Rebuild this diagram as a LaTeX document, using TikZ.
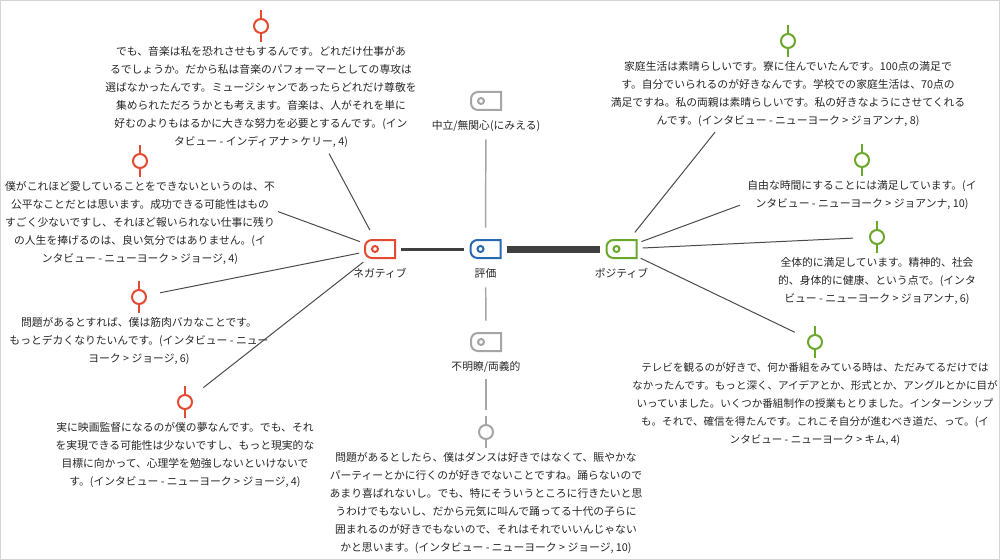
\documentclass[tikz,border=0pt]{standalone}
\usepackage{fontspec}
\setmainfont{Noto Sans CJK JP}
\usetikzlibrary{positioning,calc}
\definecolor{negred}{RGB}{228,73,49}
\definecolor{valblue}{RGB}{40,106,176}
\definecolor{posgreen}{RGB}{106,168,44}
\definecolor{tagarey}{RGB}{165,165,165}
\definecolor{linkgrey}{RGB}{75,75,75}
\definecolor{framegrey}{RGB}{212,212,212}

\begin{document}
\begin{tikzpicture}[x=0.75pt,y=0.75pt,node distance=9.4pt,
	every node/.style={text=black!85,font=\fontsize{8.1pt}{13.5pt}\selectfont},
	tagnode/.style={circle,minimum size=31.5pt,inner sep=0pt,
		path picture={\draw[draw=#1,line width=1.5pt,shift={(path picture bounding box.center)}]
			(11.25pt,6.75pt) -- (-6pt,6.75pt) arc[start angle=90,end angle=180,radius=5.25pt]
			-- (-11.25pt,-1.5pt) arc[start angle=180,end angle=270,radius=5.25pt]
			-- (11.25pt,-6.75pt) -- cycle
			(-3.75pt,0pt) circle[radius=2.25pt];}},
	tagtext/.style={inner sep=0pt,below=-1.4pt of #1},
	quotedot/.style={circle,draw=#1,line width=1.5pt,minimum size=10.5pt,inner sep=0pt},
	quotetext/.style={align=center,inner sep=0pt},
	link/.style={draw=linkgrey,line width=0.75pt},
	vline/.style={draw=tagarey,line width=1.1pt}]
	\useasboundingbox (0,0) rectangle (1000,-560);
	\draw[framegrey,line width=0.75pt] (0.5,-0.5) rectangle (999.5,-559.5);

	\node[tagnode=negred] (neg) at (380,-249) {};
	\node[tagnode=valblue] (val) at (485.5,-249) {};
	\node[tagnode=posgreen] (pos) at (621.5,-249) {};
	\node[tagnode=tagarey] (neu) at (486,-101) {};
	\node[tagnode=tagarey] (amb) at (486,-342) {};
	\node[tagtext=neg] (negtxt) {ネガティブ};
	\node[tagtext=val] (valtxt) {評価};
	\node[tagtext=pos] (postxt) {ポジティブ};
	\node[tagtext=neu] (neutxt) {中立/無関心(にみえる)};
	\node[tagtext=amb] (ambtxt) {不明瞭/両義的};

	\node[quotedot=negred] (n1) at (261,-26) {};
	\node[quotetext,below=of n1] (n1txt) {でも、音楽は私を恐れさせもするんです。どれだけ仕事があ\\
		るでしょうか。だから私は音楽のパフォーマーとしての専攻は\\
		選ばなかったんです。ミュージシャンであったらどれだけ尊敬を\\
		集められただろうかとも考えます。音楽は、人がそれを単に\\
		好むのよりもはるかに大きな努力を必要とするんです。(イン\\
		タビュー - インディアナ > ケリー, 4)};
	\node[quotedot=negred] (n2) at (140,-161) {};
	\node[quotetext,below=of n2] (n2txt) {僕がこれほど愛していることをできないというのは、不\\
		公平なことだとは思います。成功できる可能性はもの\\
		すごく少ないですし、それほど報いられない仕事に残り\\
		の人生を捧げるのは、良い気分ではありません。(イ\\
		ンタビュー - ニューヨーク > ジョージ, 4)};
	\node[quotedot=negred] (n3) at (139,-297) {};
	\node[quotetext,below=of n3] (n3txt) {問題があるとすれば、僕は筋肉バカなことです。\\
		もっとデカくなりたいんです。(インタビュー - ニュー\\
		ヨーク > ジョージ, 6)};
	\node[quotedot=negred] (n4) at (185,-402) {};
	\node[quotetext,below=of n4] (n4txt) {実に映画監督になるのが僕の夢なんです。でも、それ\\
		を実現できる可能性は少ないですし、もっと現実的な\\
		目標に向かって、心理学を勉強しないといけないで\\
		す。(インタビュー - ニューヨーク > ジョージ, 4)};
	\node[quotedot=tagarey] (gm) at (486,-432) {};
	\node[quotetext,below=of gm] (gmtxt) {問題があるとしたら、僕はダンスは好きではなくて、賑やかな\\
		パーティーとかに行くのが好きでないことですね。踊らないので\\
		あまり喜ばれないし。でも、特にそういうところに行きたいと思\\
		うわけでもないし、だから元気に叫んで踊ってる十代の子らに\\
		囲まれるのが好きでもないので、それはそれでいいんじゃない\\
		かと思います。(インタビュー - ニューヨーク > ジョージ, 10)};
	\node[quotedot=posgreen] (p1) at (788,-41) {};
	\node[quotetext,below=of p1] (p1txt) {家庭生活は素晴らしいです。寮に住んでいたんです。100点の満足で\\
		す。自分でいられるのが好きなんです。学校での家庭生活は、70点の\\
		満足ですね。私の両親は素晴らしいです。私の好きなようにさせてくれる\\
		んです。(インタビュー - ニューヨーク > ジョアンナ, 8)};
	\node[quotedot=posgreen] (p2) at (862,-160) {};
	\node[quotetext,below=of p2] (p2txt) {自由な時間にすることには満足しています。(イ\\
		ンタビュー - ニューヨーク > ジョアンナ, 10)};
	\node[quotedot=posgreen] (p3) at (877,-237) {};
	\node[quotetext,below=of p3] (p3txt) {全体的に満足しています。精神的、社会\\
		的、身体的に健康、という点で。(インタ\\
		ビュー - ニューヨーク > ジョアンナ, 6)};
	\node[quotedot=posgreen] (p4) at (815,-342) {};
	\node[quotetext,below=of p4,font=\fontsize{7.9pt}{13.5pt}\selectfont] (p4txt) {テレビを観るのが好きで、何か番組をみている時は、ただみてるだけでは\\
		なかったんです。もっと深く、アイデアとか、形式とか、アングルとかに目が\\
		いっていました。いくつか番組制作の授業もとりました。インターンシップ\\
		も。それで、確信を得たんです。これこそ自分が進むべき道だ、って。(イ\\
		ンタビュー - ニューヨーク > キム, 4)};

	\foreach \m/\col in {n1/negred,n2/negred,n3/negred,n4/negred,gm/tagarey,p1/posgreen,p2/posgreen,p3/posgreen,p4/posgreen}{
		\draw[draw=\col,line width=1.5pt] (\m.north) -- ++(0,8);
		\draw[draw=\col,line width=1.5pt] (\m.south) -- ++(0,-8);
	}

	\draw[draw=linkgrey!85!black,line width=2.25pt] (neg) -- (val);
	\draw[draw=linkgrey!85!black,line width=5.25pt] (val) -- (pos);
	\draw[vline,shorten <=12.75pt] (neu) -- (val);
	\draw[vline,shorten <=12.75pt] (val) -- (amb);
	\draw[vline,shorten <=12pt,shorten >=10.5pt] (amb) -- (gm);
	\draw[link,shorten >=102.4pt] (neg) -- (n1);
	\draw[link,shorten >=104.3pt] (neg) -- (n2);
	\draw[link,shorten >=10.2pt] (neg) -- (n3);
	\draw[link,shorten >=11.5pt] (neg) -- (n4);
	\draw[link,shorten >=81.5pt] (pos) -- (p1);
	\draw[link,shorten >=91.8pt] (pos) -- (p2);
	\draw[link,shorten >=12pt] (pos) -- (p3);
	\draw[link,shorten >=10.8pt] (pos) -- (p4);
\end{tikzpicture}
\end{document}
